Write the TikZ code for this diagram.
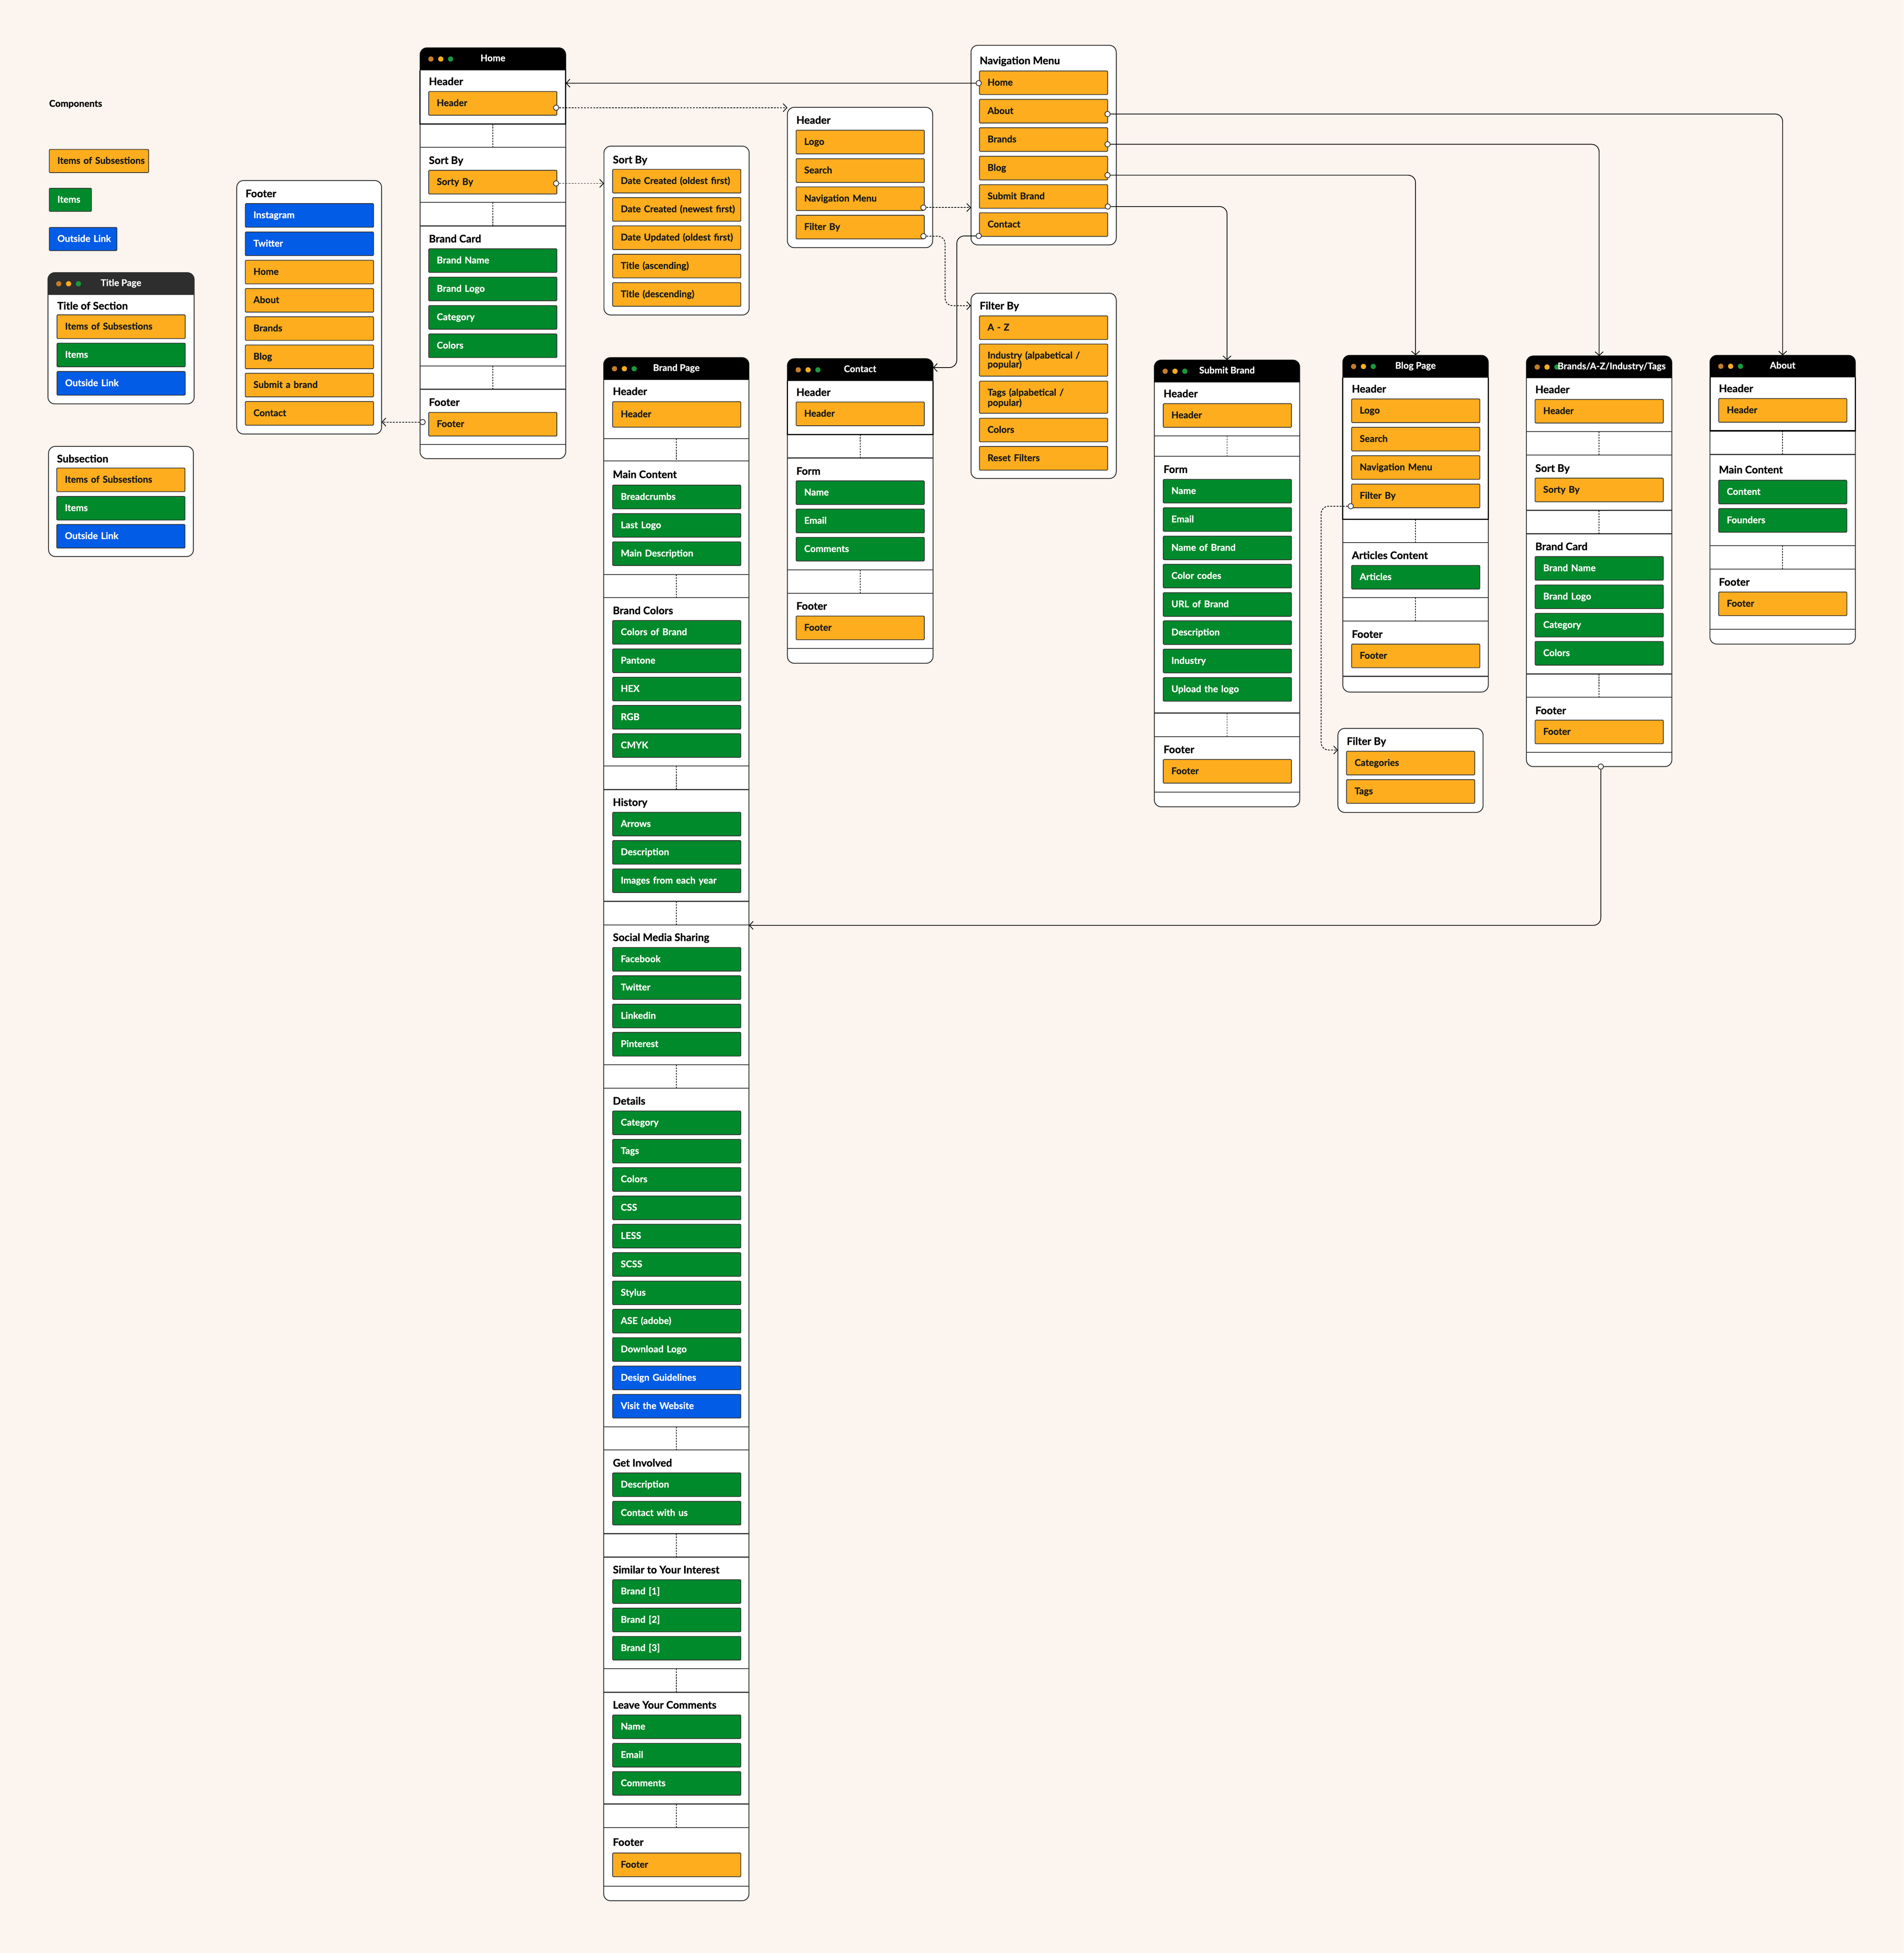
\documentclass[tikz,border=0pt]{standalone}
\usepackage{fontspec}
\setmainfont{Lato}[BoldFeatures={FakeBold=1}]
\usetikzlibrary{arrows.meta}
\definecolor{bg}{HTML}{FCF4EE}
\definecolor{dk}{HTML}{333333}
\definecolor{orng}{HTML}{FDAD1E}
\definecolor{grn}{HTML}{018A2B}
\definecolor{blu}{HTML}{035CE6}
\definecolor{dotA}{HTML}{C47D2A}
\definecolor{dotB}{HTML}{FDAD1E}
\definecolor{dotC}{HTML}{1A9A3C}
\definecolor{bargray}{HTML}{2E2E2E}
\definecolor{otext}{HTML}{1A1A1A}
\newcommand\itemfont{\fontsize{7.5pt}{7.2pt}\selectfont\bfseries}
\newcommand\lblfont{\fontsize{8.4pt}{8.4pt}\selectfont\bfseries}
\newcommand\wtitlefont{\fontsize{7.4pt}{7.4pt}\selectfont\bfseries}
\def\barcol{black}
\tikzset{
  winbox/.style={draw=dk, fill=white, line width=0.7pt, rounded corners=5.5pt, inner sep=0pt, outer sep=0pt},
  sep/.style={draw=dk, line width=0.7pt},
  hframe/.style={draw=black, line width=1pt},
  gapdash/.style={draw=black, line width=0.5pt, dash pattern=on 1.3pt off 0.9pt},
  itembase/.style={anchor=north west, draw=dk, line width=0.6pt, rounded corners=0.6pt, minimum height=19pt, text width=90pt, inner xsep=6.5pt, inner ysep=0pt, align=left, font=\itemfont, text height=5.3pt, text depth=0.8pt, outer sep=0pt},
  oitem/.style={itembase, fill=orng, text=otext},
  gitem/.style={itembase, fill=grn, text=white},
  bitem/.style={itembase, fill=blu, text=white},
  twoline/.style={minimum height=25.8pt, text height=5.3pt, text depth=7.8pt},
  lbl/.style={anchor=west, inner sep=0pt, font=\lblfont, text=black, text height=6pt, text depth=0pt},
  wtitle/.style={inner sep=0pt, font=\wtitlefont, text=white, text height=5.2pt, text depth=0pt},
  port/.style={circle, draw=dk, fill=white, line width=0.6pt, minimum size=4.2pt, inner sep=0pt},
  conn/.style={draw=black, line width=0.6pt, -{Straight Barb[length=3pt,width=6.5pt]}, rounded corners=6pt},
  dconn/.style={conn, dash pattern=on 1.5pt off 1pt},
}
% window: name, xL, yT, xR, yB, bar bottom, title, title x
\newcommand\mkwin[8]{%
  \node[winbox, minimum width={(#4)-(#2)}, minimum height={(#5)-(#3)}] (#1) at ({((#2)+(#4))/2},{((#3)+(#5))/2}) {};
  \fill[fill=\barcol] (#2,#6) [rounded corners=5.5pt] -- (#2,#3) -- (#4,#3) [sharp corners] -- (#4,#6) -- cycle;
  \fill[dotA] ({(#2)+8.7},{((#3)+(#6))/2}) circle[radius=2.1pt];
  \fill[dotB] ({(#2)+16.6},{((#3)+(#6))/2}) circle[radius=2.1pt];
  \fill[dotC] ({(#2)+24.5},{((#3)+(#6))/2}) circle[radius=2.1pt];
  \node[wtitle] (#1-t) at (#8,{((#3)+(#6))/2-0.8}) {#7};
}
\newcommand\mkbox[5]{%
  \node[winbox, minimum width={(#4)-(#2)}, minimum height={(#5)-(#3)}] (#1) at ({((#2)+(#4))/2},{((#3)+(#5))/2}) {};
}
\newcommand\itm[5]{\node[#1] (#2) at (#3,#4) {#5};}
\newcommand\lb[4]{\node[lbl] (#1) at (#2,#3) {#4};}
\newcommand\gp[4]{%
  \draw[sep] (#1,#3) -- (#2,#3);
  \draw[sep] (#1,#4) -- (#2,#4);
  \draw[gapdash] ({((#1)+(#2))/2},#3) -- ({((#1)+(#2))/2},#4);
}
\newcommand\hfr[4]{\draw[hframe] (#1,#3) -- (#1,#4) -- (#2,#4) -- (#2,#3);}
\begin{document}
\begin{tikzpicture}[x=1pt,y=-1pt]
\useasboundingbox (0,0) rectangle (1529.4,1568.6);
\fill[bg] (0,0) rectangle (1529.4,1568.6);

% ---------------- legend ----------------
\node[lbl, font=\itemfont, text height=5.3pt] (comp) at (39.3,83.1) {Components};
\itm{oitem,text width=66.8pt,minimum height=18.6pt}{lg-o}{39.6}{120}{\mbox{Items of Subsestions}}
\itm{gitem,text width=20.9pt,minimum height=18.6pt}{lg-g}{39.6}{151.2}{\mbox{Items}}
\itm{bitem,text width=41.3pt,minimum height=18.6pt}{lg-b}{39.6}{182.7}{\mbox{Outside Link}}

\def\barcol{bargray}
\mkwin{tp}{38.5}{219}{156}{324.4}{236.8}{Title Page}{97.2}
\def\barcol{black}
\lb{tp-l}{45.8}{245.6}{Title of Section}
\itm{oitem}{tp-o}{45.8}{252.9}{Items of Subsestions}
\itm{gitem}{tp-g}{45.8}{275.6}{Items}
\itm{bitem}{tp-b}{45.8}{298.4}{Outside Link}

\mkbox{sub}{39}{358.5}{155.4}{447}
\lb{sub-l}{45.6}{368.4}{Subsection}
\itm{oitem}{sub-o}{45.6}{375.9}{Items of Subsestions}
\itm{gitem}{sub-g}{45.6}{398.7}{Items}
\itm{bitem}{sub-b}{45.6}{421.2}{Outside Link}

% ---------------- footer box ----------------
\mkbox{footbox}{190.2}{145}{306.6}{348.6}
\lb{fb-l}{197.1}{155.4}{Footer}
\itm{bitem}{fb-1}{197.1}{163.5}{Instagram}
\itm{bitem}{fb-2}{197.1}{186.3}{Twitter}
\itm{oitem}{fb-3}{197.1}{209.0}{Home}
\itm{oitem}{fb-4}{197.1}{231.7}{About}
\itm{oitem}{fb-5}{197.1}{254.4}{Brands}
\itm{oitem}{fb-6}{197.1}{277.1}{Blog}
\itm{oitem}{fb-7}{197.1}{299.8}{Submit a brand}
\itm{oitem}{fb-8}{197.1}{322.5}{Contact}

% ---------------- Home ----------------
\mkwin{home}{337.5}{38.4}{454.5}{368.4}{56.4}{Home}{396}
\gp{337.5}{454.5}{99.6}{118.2}
\hfr{337.5}{454.5}{56.4}{99.6}
\lb{home-l1}{344.4}{65.4}{Header}
\itm{oitem}{home-hdr}{344.4}{73.5}{Header}
\lb{home-l2}{344.4}{128.7}{Sort By}
\itm{oitem}{home-sort}{344.4}{136.8}{Sorty By}
\gp{337.5}{454.5}{162.6}{181.5}
\lb{home-l3}{344.4}{191.7}{Brand Card}
\itm{gitem}{home-b1}{344.4}{199.8}{Brand Name}
\itm{gitem}{home-b2}{344.4}{222.6}{Brand Logo}
\itm{gitem}{home-b3}{344.4}{245.4}{Category}
\itm{gitem}{home-b4}{344.4}{268.2}{Colors}
\gp{337.5}{454.5}{294}{312.6}
\lb{home-l4}{344.4}{323}{Footer}
\itm{oitem}{home-foot}{344.4}{331.2}{Footer}
\draw[sep] (337.5,357) -- (454.5,357);

% ---------------- Sort By box ----------------
\mkbox{sortbox}{485.2}{117.4}{601.9}{253}
\lb{sb-l}{492.2}{128.2}{Sort By}
\itm{oitem}{sb-1}{492.2}{136.0}{\mbox{Date Created (oldest first)}}
\itm{oitem}{sb-2}{492.2}{158.7}{\mbox{Date Created (newest first)}}
\itm{oitem}{sb-3}{492.2}{181.4}{\mbox{Date Updated (oldest first)}}
\itm{oitem}{sb-4}{492.2}{204.2}{Title (ascending)}
\itm{oitem}{sb-5}{492.2}{227.0}{Title (descending)}

% ---------------- Header box ----------------
\mkbox{hdrbox}{632.6}{86.2}{749.3}{198.9}
\lb{hb-l}{639.6}{96.4}{Header}
\itm{oitem}{hb-1}{639.6}{104.6}{Logo}
\itm{oitem}{hb-2}{639.6}{127.5}{Search}
\itm{oitem}{hb-3}{639.6}{150.1}{Navigation Menu}
\itm{oitem}{hb-4}{639.6}{172.9}{Filter By}

% ---------------- Navigation Menu ----------------
\mkbox{navbox}{780.1}{36.4}{896.8}{196.7}
\lb{nb-l}{786.9}{48.6}{Navigation Menu}
\itm{oitem}{nb-1}{786.9}{57.0}{Home}
\itm{oitem}{nb-2}{786.9}{79.8}{About}
\itm{oitem}{nb-3}{786.9}{102.6}{Brands}
\itm{oitem}{nb-4}{786.9}{125.5}{Blog}
\itm{oitem}{nb-5}{786.9}{148.3}{Submit Brand}
\itm{oitem}{nb-6}{786.9}{170.9}{Contact}

% ---------------- Filter By (top) ----------------
\mkbox{filt1}{780.1}{235.5}{896.8}{384.3}
\lb{f1-l}{786.9}{245.5}{Filter By}
\itm{oitem}{f1-1}{786.9}{253.7}{A - Z}
\itm{oitem,twoline}{f1-2}{786.9}{276.3}{Industry (alpabetical /\\popular)}
\itm{oitem,twoline}{f1-3}{786.9}{306.1}{Tags (alpabetical /\\popular)}
\itm{oitem}{f1-4}{786.9}{335.9}{Colors}
\itm{oitem}{f1-5}{786.9}{358.6}{Reset Filters}

% ---------------- Brand Page ----------------
\mkwin{brandpage}{485}{287.2}{601.7}{1526.6}{305.1}{Brand Page}{543.4}
\lb{bp-l1}{492.2}{314.3}{Header}
\itm{oitem,minimum height=20.5pt}{bp-h}{492.2}{322.6}{Header}
\gp{485}{601.7}{352.4}{370.1}
\lb{bp-l2}{492.2}{381}{Main Content}
\itm{gitem}{bp-m1}{492.2}{389.7}{Breadcrumbs}
\itm{gitem}{bp-m2}{492.2}{412.5}{Last Logo}
\itm{gitem}{bp-m3}{492.2}{435.2}{Main Description}
\gp{485}{601.7}{461.4}{480}
\lb{bp-l3}{492.2}{490.3}{Brand Colors}
\itm{gitem}{bp-c1}{492.2}{498.4}{Colors of Brand}
\itm{gitem}{bp-c2}{492.2}{521.2}{Pantone}
\itm{gitem}{bp-c3}{492.2}{543.9}{HEX}
\itm{gitem}{bp-c4}{492.2}{566.6}{RGB}
\itm{gitem}{bp-c5}{492.2}{589.3}{CMYK}
\gp{485}{601.7}{615.3}{634.2}
\lb{bp-l4}{492.2}{644.3}{History}
\itm{gitem}{bp-h1}{492.2}{652.4}{Arrows}
\itm{gitem}{bp-h2}{492.2}{675.1}{Description}
\itm{gitem}{bp-h3}{492.2}{697.9}{Images from each year}
\gp{485}{601.7}{723.9}{742.8}
\lb{bp-l5}{492.2}{752.8}{Social Media Sharing}
\itm{gitem}{bp-s1}{492.2}{761.0}{Facebook}
\itm{gitem}{bp-s2}{492.2}{783.7}{Twitter}
\itm{gitem}{bp-s3}{492.2}{806.5}{Linkedin}
\itm{gitem}{bp-s4}{492.2}{829.2}{Pinterest}
\gp{485}{601.7}{855.2}{874.1}
\lb{bp-l6}{492.2}{884.2}{Details}
\itm{gitem}{bp-d1}{492.2}{892.3}{Category}
\itm{gitem}{bp-d2}{492.2}{915.1}{Tags}
\itm{gitem}{bp-d3}{492.2}{937.8}{Colors}
\itm{gitem}{bp-d4}{492.2}{960.6}{CSS}
\itm{gitem}{bp-d5}{492.2}{983.3}{LESS}
\itm{gitem}{bp-d6}{492.2}{1006.1}{SCSS}
\itm{gitem}{bp-d7}{492.2}{1028.9}{Stylus}
\itm{gitem}{bp-d8}{492.2}{1051.6}{ASE (adobe)}
\itm{gitem}{bp-d9}{492.2}{1074.4}{Download Logo}
\itm{bitem}{bp-d10}{492.2}{1097.2}{Design Guidelines}
\itm{bitem}{bp-d11}{492.2}{1119.9}{Visit the Website}
\gp{485}{601.7}{1146}{1164.5}
\lb{bp-l7}{492.2}{1174.9}{Get Involved}
\itm{gitem}{bp-g1}{492.2}{1183.0}{Description}
\itm{gitem}{bp-g2}{492.2}{1205.8}{Contact with us}
\gp{485}{601.7}{1231.8}{1250.6}
\lb{bp-l8}{492.2}{1260.7}{Similar to Your Interest}
\itm{gitem}{bp-r1}{492.2}{1268.8}{Brand [1]}
\itm{gitem}{bp-r2}{492.2}{1291.6}{Brand [2]}
\itm{gitem}{bp-r3}{492.2}{1314.3}{Brand [3]}
\gp{485}{601.7}{1340.3}{1359.2}
\lb{bp-l9}{492.2}{1369.3}{Leave Your Comments}
\itm{gitem}{bp-k1}{492.2}{1377.4}{Name}
\itm{gitem}{bp-k2}{492.2}{1400.2}{Email}
\itm{gitem}{bp-k3}{492.2}{1422.9}{Comments}
\gp{485}{601.7}{1448.9}{1467.8}
\lb{bp-l10}{492.2}{1479.5}{Footer}
\itm{oitem}{bp-f}{492.2}{1488.3}{Footer}
\draw[sep] (485,1514.9) -- (601.7,1514.9);

% ---------------- Contact ----------------
\mkwin{contact}{632.6}{288.1}{749.6}{532.7}{306}{Contact}{691}
\gp{632.6}{749.6}{349}{367.8}
\hfr{632.6}{749.6}{306}{349}
\lb{ct-l1}{639.6}{315}{Header}
\itm{oitem}{ct-h}{639.6}{322.9}{Header}
\lb{ct-l2}{639.6}{378.3}{Form}
\itm{gitem}{ct-1}{639.6}{386.2}{Name}
\itm{gitem}{ct-2}{639.6}{408.9}{Email}
\itm{gitem}{ct-3}{639.6}{431.6}{Comments}
\gp{632.6}{749.6}{457.7}{476.6}
\lb{ct-l3}{639.6}{486.7}{Footer}
\itm{oitem}{ct-f}{639.6}{494.8}{Footer}
\draw[sep] (632.6,520.7) -- (749.6,520.7);

% ---------------- Submit Brand ----------------
\mkwin{submit}{927.4}{289.2}{1044.2}{648}{307.1}{Submit Brand}{985.8}
\lb{sm-l1}{934.6}{316.1}{Header}
\itm{oitem}{sm-h}{934.6}{324.2}{Header}
\gp{927.4}{1044.2}{350.1}{366.5}
\lb{sm-l2}{934.6}{376.9}{Form}
\itm{gitem}{sm-1}{934.6}{385.0}{Name}
\itm{gitem}{sm-2}{934.6}{407.8}{Email}
\itm{gitem}{sm-3}{934.6}{430.6}{Name of Brand}
\itm{gitem}{sm-4}{934.6}{453.2}{Color codes}
\itm{gitem}{sm-5}{934.6}{476.0}{URL of Brand}
\itm{gitem}{sm-6}{934.6}{498.6}{Description}
\itm{gitem}{sm-7}{934.6}{521.4}{Industry}
\itm{gitem}{sm-8}{934.6}{544.2}{Upload the logo}
\gp{927.4}{1044.2}{572.7}{591.7}
\lb{sm-l3}{934.6}{601.9}{Footer}
\itm{oitem}{sm-f}{934.6}{610.0}{Footer}
\draw[sep] (927.4,636.1) -- (1044.2,636.1);

% ---------------- Blog Page ----------------
\mkwin{blog}{1078.8}{285.4}{1195.7}{555.8}{303.3}{Blog Page}{1137.2}
\gp{1078.8}{1195.7}{417.1}{435.8}
\hfr{1078.8}{1195.7}{303.3}{417.1}
\lb{bl-l1}{1085.9}{312.3}{Header}
\itm{oitem}{bl-1}{1085.9}{320.4}{Logo}
\itm{oitem}{bl-2}{1085.9}{343.2}{Search}
\itm{oitem}{bl-3}{1085.9}{366.0}{Navigation Menu}
\itm{oitem}{bl-4}{1085.9}{388.8}{Filter By}
\lb{bl-l2}{1085.9}{446.0}{Articles Content}
\itm{gitem}{bl-a}{1085.9}{454.1}{Articles}
\gp{1078.8}{1195.7}{480.0}{498.8}
\lb{bl-l3}{1085.9}{509.3}{Footer}
\itm{oitem}{bl-f}{1085.9}{517.3}{Footer}
\draw[sep] (1078.8,543.2) -- (1195.7,543.2);

% ---------------- Filter By (bottom) ----------------
\mkbox{filt2}{1074.9}{585}{1191.5}{652.5}
\lb{f2-l}{1081.8}{595.3}{Filter By}
\itm{oitem}{f2-1}{1081.8}{603.4}{Categories}
\itm{oitem}{f2-2}{1081.8}{626.2}{Tags}

% ---------------- Brands/A-Z/Industry/Tags ----------------
\mkwin{brands}{1226.3}{285.9}{1343.2}{615.7}{303.7}{Brands/A-Z/Industry/Tags}{1294.8}
\lb{br-l1}{1233.3}{312.8}{Header}
\itm{oitem}{br-h}{1233.3}{320.8}{Header}
\gp{1226.3}{1343.2}{346.7}{365.5}
\lb{br-l2}{1233.3}{376.0}{Sort By}
\itm{oitem}{br-s}{1233.3}{384.0}{Sorty By}
\gp{1226.3}{1343.2}{409.9}{428.7}
\lb{br-l3}{1233.3}{438.9}{Brand Card}
\itm{gitem}{br-1}{1233.3}{447.0}{Brand Name}
\itm{gitem}{br-2}{1233.3}{469.8}{Brand Logo}
\itm{gitem}{br-3}{1233.3}{492.6}{Category}
\itm{gitem}{br-4}{1233.3}{515.2}{Colors}
\gp{1226.3}{1343.2}{541.3}{560.1}
\lb{br-l4}{1233.3}{570.6}{Footer}
\itm{oitem}{br-f}{1233.3}{578.4}{Footer}
\draw[sep] (1226.3,604.3) -- (1343.2,604.3);

% ---------------- About ----------------
\mkwin{about}{1373.8}{285.4}{1490.6}{517.3}{303}{About}{1432.2}
\gp{1373.8}{1490.6}{346}{365}
\hfr{1373.8}{1490.6}{303}{346}
\lb{ab-l1}{1380.8}{312}{Header}
\itm{oitem}{ab-h}{1380.8}{320.1}{Header}
\lb{ab-l2}{1380.8}{377.2}{Main Content}
\itm{gitem}{ab-1}{1380.8}{385.7}{Content}
\itm{gitem}{ab-2}{1380.8}{408.5}{Founders}
\gp{1373.8}{1490.6}{438.2}{457}
\lb{ab-l3}{1380.8}{467.4}{Footer}
\itm{oitem}{ab-f}{1380.8}{475.5}{Footer}
\draw[sep] (1373.8,505.4) -- (1490.6,505.4);

% ---------------- ports ----------------
\node[port] (pHomeHdr) at (446.8,86.5) {};
\node[port] (pHomeSort) at (446.8,147.3) {};
\node[port] (pHomeFoot) at (339.5,339.0) {};
\node[port] (pHdrNav) at (741.9,166.7) {};
\node[port] (pHdrFilter) at (741.9,189.7) {};
\node[port] (pNavHome) at (786.3,66.8) {};
\node[port] (pNavAbout) at (889.8,91.6) {};
\node[port] (pNavBrands) at (889.8,115.9) {};
\node[port] (pNavBlog) at (889.8,140.7) {};
\node[port] (pNavSubmit) at (890.0,165.9) {};
\node[port] (pNavContact) at (786.3,189.5) {};
\node[port] (pBlogFilter) at (1085.2,406.6) {};
\node[port] (pBrandsBot) at (1286.1,615.7) {};

\coordinate (cCon) at (768.7,295.2);
\coordinate (cF1) at (759.3,245.5);
\coordinate (cF2) at (1061.4,602.4);
\coordinate (cBP) at (0,743.2);

% ---------------- connectors ----------------
\draw[conn] (pNavHome) -- (pNavHome -| home.east);
\draw[conn] (pNavAbout) -| (about.north);
\draw[conn] (pNavBrands) -| (brands.north);
\draw[conn] (pNavBlog) -| (blog.north);
\draw[conn] (pNavSubmit) -| (submit.north);
\draw[conn] (pNavContact) -| (cCon) -- (cCon -| contact.east);
\draw[conn] (pBrandsBot) |- (cBP -| brandpage.east);
\draw[dconn] (pHomeHdr) -- (pHomeHdr -| hdrbox.west);
\draw[dconn] (pHomeSort) -- (pHomeSort -| sortbox.west);
\draw[dconn] (pHomeFoot) -- (pHomeFoot -| footbox.east);
\draw[dconn] (pHdrNav) -- (pHdrNav -| navbox.west);
\draw[dconn] (pHdrFilter) -| (cF1) -- (cF1 -| filt1.west);
\draw[dconn] (pBlogFilter) -| (cF2) -- (cF2 -| filt2.west);
\end{tikzpicture}
\end{document}
